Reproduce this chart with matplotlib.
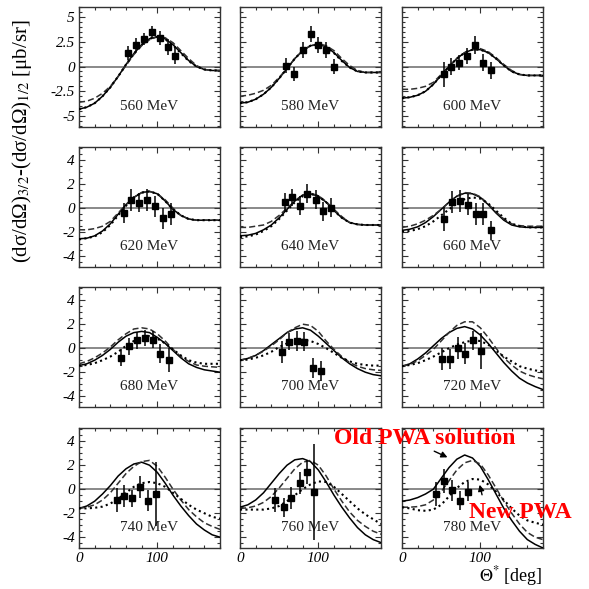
import matplotlib
matplotlib.use("Agg")
import matplotlib.pyplot as plt
from matplotlib.ticker import MultipleLocator, FuncFormatter

plt.rcParams['font.family'] = 'serif'
plt.rcParams['font.serif'] = ['Liberation Serif', 'DejaVu Serif']
plt.rcParams['mathtext.fontset'] = 'stix'
plt.rcParams['axes.unicode_minus'] = False

# ---------------- data ----------------
energies = ["560 MeV", "580 MeV", "600 MeV", "620 MeV", "640 MeV", "660 MeV",
            "680 MeV", "700 MeV", "720 MeV", "740 MeV", "760 MeV", "780 MeV"]

theta_grid = [0, 10, 20, 30, 40, 50, 60, 70, 80, 90, 100, 110, 120, 130, 140, 150, 160, 170, 180]

solid = [
    [-4.3,-4.1,-3.7,-3.0,-2.1,-1.0,0.2,1.3,2.2,2.8,3.0,2.8,2.2,1.4,0.6,0.0,-0.3,-0.4,-0.4],
    [-3.7,-3.6,-3.3,-2.8,-2.1,-1.2,-0.2,0.8,1.6,2.1,2.2,2.0,1.4,0.6,-0.1,-0.5,-0.6,-0.6,-0.6],
    [-3.2,-3.1,-2.9,-2.5,-1.8,-0.9,0.0,0.8,1.4,1.7,1.7,1.4,0.8,0.1,-0.5,-0.8,-0.9,-0.9,-0.9],
    [-2.55,-2.5,-2.3,-1.9,-1.3,-0.5,0.3,0.9,1.3,1.4,1.2,0.6,-0.1,-0.6,-0.9,-1.0,-1.0,-1.0,-1.0],
    [-2.3,-2.25,-2.1,-1.8,-1.4,-0.8,-0.1,0.6,1.1,1.2,1.0,0.5,-0.2,-0.8,-1.2,-1.35,-1.4,-1.4,-1.4],
    [-1.85,-1.75,-1.55,-1.2,-0.7,-0.1,0.5,1.0,1.25,1.2,0.9,0.3,-0.4,-1.0,-1.4,-1.55,-1.6,-1.6,-1.6],
    [-1.45,-1.3,-1.0,-0.6,-0.1,0.5,1.0,1.3,1.4,1.3,0.9,0.4,-0.2,-0.8,-1.3,-1.6,-1.8,-1.9,-2.0],
    [-1.0,-0.85,-0.6,-0.2,0.3,0.8,1.3,1.6,1.7,1.5,1.0,0.4,-0.2,-0.8,-1.3,-1.7,-2.0,-2.2,-2.3],
    [-1.5,-1.3,-0.9,-0.4,0.2,0.8,1.3,1.65,1.8,1.6,1.1,0.4,-0.4,-1.2,-1.9,-2.5,-2.9,-3.2,-3.45],
    [-1.6,-1.4,-1.0,-0.4,0.3,1.1,1.7,2.1,2.25,2.0,1.4,0.5,-0.5,-1.4,-2.2,-2.9,-3.4,-3.8,-4.0],
    [-1.5,-1.3,-0.9,-0.3,0.5,1.3,2.0,2.45,2.55,2.3,1.6,0.6,-0.5,-1.5,-2.4,-3.2,-3.8,-4.2,-4.45],
    [-1.0,-0.9,-0.7,-0.4,0.0,0.9,1.8,2.5,2.85,2.6,1.9,0.8,-0.4,-1.6,-2.6,-3.5,-4.2,-4.6,-4.9],
]

dashed = [
    [-3.6,-3.5,-3.2,-2.7,-2.0,-1.0,0.1,1.2,2.1,2.7,3.0,2.9,2.4,1.6,0.8,0.1,-0.3,-0.4,-0.4],
    [-3.0,-2.9,-2.7,-2.4,-1.9,-1.1,-0.2,0.8,1.6,2.1,2.3,2.1,1.6,0.8,0.1,-0.4,-0.6,-0.6,-0.6],
    [-2.3,-2.3,-2.2,-2.0,-1.6,-0.8,0.0,0.8,1.4,1.7,1.8,1.5,0.9,0.2,-0.4,-0.8,-0.9,-0.9,-0.9],
    [-1.8,-1.8,-1.7,-1.5,-1.1,-0.4,0.3,0.9,1.3,1.4,1.2,0.7,0.0,-0.6,-0.9,-1.0,-1.0,-1.0,-1.0],
    [-1.6,-1.6,-1.5,-1.4,-1.1,-0.6,0.0,0.6,1.1,1.25,1.05,0.55,-0.1,-0.7,-1.2,-1.35,-1.4,-1.4,-1.4],
    [-1.6,-1.5,-1.3,-1.0,-0.6,-0.1,0.5,1.0,1.3,1.25,0.95,0.35,-0.3,-0.9,-1.3,-1.45,-1.5,-1.5,-1.5],
    [-1.3,-1.1,-0.8,-0.4,0.1,0.7,1.2,1.6,1.7,1.6,1.2,0.6,-0.1,-0.7,-1.1,-1.4,-1.5,-1.55,-1.6],
    [-1.0,-0.85,-0.6,-0.25,0.2,0.7,1.3,1.7,2.0,1.9,1.4,0.6,-0.1,-0.7,-1.2,-1.5,-1.7,-1.8,-1.85],
    [-1.5,-1.35,-1.05,-0.6,-0.1,0.6,1.3,1.9,2.2,2.2,1.7,0.9,0.0,-0.8,-1.4,-1.9,-2.2,-2.4,-2.55],
    [-1.6,-1.5,-1.3,-0.9,-0.3,0.5,1.3,1.9,2.3,2.4,1.9,1.0,0.0,-0.9,-1.7,-2.3,-2.8,-3.1,-3.35],
    [-1.6,-1.55,-1.4,-1.1,-0.6,0.1,0.9,1.7,2.25,2.4,2.0,1.1,0.0,-1.0,-1.9,-2.6,-3.1,-3.5,-3.75],
    [-1.5,-1.5,-1.45,-1.3,-0.9,-0.2,0.7,1.6,2.2,2.4,2.1,1.2,0.1,-1.0,-2.0,-2.9,-3.6,-4.0,-4.2],
]

dotted = [
    [-4.3,-4.1,-3.7,-3.0,-2.1,-1.0,0.2,1.3,2.2,2.8,3.0,2.75,2.15,1.35,0.55,0.0,-0.3,-0.4,-0.4],
    [-3.7,-3.6,-3.3,-2.8,-2.1,-1.2,-0.2,0.8,1.6,2.1,2.2,1.95,1.35,0.55,-0.1,-0.5,-0.6,-0.6,-0.6],
    [-3.2,-3.1,-2.9,-2.5,-1.8,-0.9,0.0,0.8,1.4,1.7,1.7,1.4,0.8,0.1,-0.5,-0.8,-0.9,-0.9,-0.9],
    [-2.6,-2.5,-2.35,-2.0,-1.4,-0.6,0.2,0.9,1.3,1.4,1.2,0.6,-0.1,-0.6,-0.9,-1.0,-1.0,-1.0,-1.0],
    [-2.4,-2.35,-2.2,-1.9,-1.5,-0.9,-0.2,0.5,1.0,1.2,1.0,0.5,-0.2,-0.8,-1.2,-1.35,-1.4,-1.4,-1.4],
    [-1.95,-1.9,-1.75,-1.5,-1.1,-0.6,-0.1,0.4,0.75,0.9,0.8,0.4,-0.2,-0.8,-1.3,-1.5,-1.6,-1.6,-1.6],
    [-1.45,-1.4,-1.25,-1.0,-0.7,-0.3,0.2,0.6,0.9,1.0,0.8,0.4,-0.1,-0.6,-1.0,-1.2,-1.3,-1.3,-1.3],
    [-1.0,-0.95,-0.8,-0.6,-0.3,0.1,0.4,0.65,0.7,0.6,0.35,0.0,-0.4,-0.8,-1.1,-1.3,-1.4,-1.45,-1.45],
    [-1.5,-1.4,-1.25,-1.0,-0.7,-0.35,0.0,0.3,0.5,0.65,0.6,0.3,-0.2,-0.7,-1.1,-1.5,-1.7,-1.85,-1.95],
    [-1.6,-1.6,-1.55,-1.45,-1.2,-0.8,-0.3,0.2,0.5,0.6,0.5,0.2,-0.3,-0.8,-1.3,-1.7,-2.0,-2.3,-2.45],
    [-1.7,-1.7,-1.7,-1.7,-1.6,-1.4,-1.0,-0.5,0.0,0.4,0.65,0.6,0.2,-0.4,-1.0,-1.6,-2.1,-2.5,-2.9],
    [-1.5,-1.6,-1.75,-1.8,-1.7,-1.3,-0.6,0.1,0.6,0.85,0.8,0.4,-0.2,-0.9,-1.6,-2.2,-2.6,-2.8,-2.95],
]

data_theta = [
    [63, 73, 83, 93, 103, 113, 123],
    [59, 69, 80, 90, 100, 110, 120],
    [53, 63, 73, 83, 93, 103, 113],
    [57, 67, 77, 87, 97, 107, 118],
    [57, 67, 76, 86, 97, 106, 116],
    [54, 64, 74, 84, 94, 103, 114],
    [54, 64, 74, 84, 94, 104, 115],
    [53, 63, 73, 82, 93, 103],
    [51, 61, 71, 81, 91, 101],
    [48, 58, 68, 78, 88, 98],
    [45, 56, 65, 76, 86, 95],
    [43, 53, 64, 74, 84],
]
data_val = [
    [1.4, 2.2, 2.8, 3.5, 2.9, 1.95, 1.05],
    [0.1, -0.8, 1.7, 3.3, 2.2, 1.7, 0.0],
    [-0.8, 0.0, 0.4, 1.1, 2.2, 0.4, -0.4],
    [-0.4, 0.7, 0.45, 0.7, 0.15, -0.85, -0.5],
    [0.5, 0.9, 0.2, 1.2, 0.7, -0.25, 0.03],
    [-0.9, 0.5, 0.6, 0.3, -0.5, -0.5, -1.85],
    [-0.8, 0.15, 0.65, 0.85, 0.7, -0.45, -0.95],
    [-0.3, 0.55, 0.6, 0.55, -1.65, -1.9],
    [-0.9, -0.9, 0.0, -0.45, 0.65, -0.25],
    [-0.9, -0.55, -0.75, 0.2, -0.95, -0.4],
    [-0.9, -1.5, -0.75, 0.5, 1.45, -0.25],
    [-0.4, 0.7, -0.1, -0.95, -0.2],
]
data_err = [
    [0.7, 0.7, 0.6, 0.6, 0.7, 0.8, 0.8],
    [0.8, 0.7, 0.8, 0.8, 0.8, 0.8, 0.8],
    [1.3, 0.9, 0.8, 0.8, 0.9, 0.9, 0.9],
    [0.8, 0.9, 0.8, 0.9, 0.9, 0.9, 0.9],
    [0.8, 0.7, 0.8, 0.8, 0.8, 0.8, 0.8],
    [1.0, 0.9, 0.9, 0.9, 0.9, 0.9, 0.8],
    [0.7, 0.7, 0.7, 0.7, 0.7, 0.8, 1.0],
    [0.9, 0.7, 0.8, 0.8, 0.8, 0.8],
    [0.9, 0.8, 0.9, 0.9, 0.8, 1.5],
    [1.0, 0.9, 0.7, 0.9, 0.9, 2.7],
    [1.0, 0.8, 0.9, 0.9, 1.0, 4.0],
    [1.0, 1.0, 0.9, 0.8, 0.8],
]

# ---------------- figure ----------------
W = H = 589
fig = plt.figure(figsize=(W / 100, H / 100), dpi=100)
fig.patch.set_facecolor('white')

col_left = [79, 240, 402]
row_top = [7, 147, 287, 428]
aw, ah = 141, 120

fmt = FuncFormatter(lambda v, p: ('%g' % v))

for i in range(12):
    r, c = divmod(i, 3)
    ax = fig.add_axes([col_left[c] / W, 1 - (row_top[r] + ah) / H, aw / W, ah / H])
    ax.axhline(0, color='#808080', lw=1.3, zorder=1)
    ax.plot(theta_grid, solid[i], color='black', lw=1.1, zorder=3)
    ax.plot(theta_grid, dashed[i], color='#303030', lw=1.1, dashes=(4, 2), zorder=3)
    ax.plot(theta_grid, dotted[i], color='black', lw=1.5, dashes=(1, 1.6), zorder=3)
    ax.errorbar(data_theta[i], data_val[i], yerr=data_err[i], fmt='s', ms=5,
                color='black', ecolor='black', elinewidth=1.1, capsize=0, zorder=4)
    ax.set_xlim(0, 180)
    if r == 0:
        ax.set_ylim(-6.1, 6.0)
        ax.yaxis.set_major_locator(MultipleLocator(2.5))
        ax.yaxis.set_minor_locator(MultipleLocator(0.5))
    else:
        ax.set_ylim(-4.9, 5.1)
        ax.yaxis.set_major_locator(MultipleLocator(2))
        ax.yaxis.set_minor_locator(MultipleLocator(0.5))
    ax.xaxis.set_major_locator(MultipleLocator(100))
    ax.xaxis.set_minor_locator(MultipleLocator(20))
    ax.yaxis.set_major_formatter(fmt)
    ax.tick_params(which='both', direction='in', top=True, right=True,
                   labelsize=11, pad=3, width=0.8, color='#333333')
    ax.tick_params(which='major', length=4)
    ax.tick_params(which='minor', length=2.5)
    for s in ax.spines.values():
        s.set_linewidth(1.0)
        s.set_color('#333333')
    if c != 0:
        ax.tick_params(labelleft=False)
    if r != 3:
        ax.tick_params(labelbottom=False)
    for lbl in ax.get_xticklabels() + ax.get_yticklabels():
        lbl.set_fontstyle('italic')
    ax.text(0.5, 0.17, energies[i], transform=ax.transAxes, ha='center', va='center',
            fontsize=11, color='#222222')

fig.text(22 / W, 1 - 141 / H,
         '(dσ/dΩ)$_{3/2}$-(dσ/dΩ)$_{1/2}$ [μb/sr]',
         rotation=90, ha='center', va='center', fontsize=15)
fig.text(542 / W, 1 - 576 / H, r'$\Theta^{*}$ [deg]', ha='right', va='center', fontsize=13)

fig.text(425 / W, 1 - 439 / H, 'Old PWA solution', color='red', fontweight='bold',
         fontsize=17, ha='center', va='center')
fig.text(520 / W, 1 - 512 / H, 'New PWA', color='red', fontweight='bold',
         fontsize=17, ha='center', va='center')
fig.add_artist(matplotlib.patches.FancyArrowPatch(
    (431.7 / W, 1 - 450 / H), (450 / W, 1 - 458.5 / H), transform=fig.transFigure,
    arrowstyle='-|>', mutation_scale=9, color='black', lw=1.0))
fig.add_artist(matplotlib.patches.FancyArrowPatch(
    (482.7 / W, 1 - 497.5 / H), (479 / W, 1 - 482 / H), transform=fig.transFigure,
    arrowstyle='-|>', mutation_scale=9, color='black', lw=1.0))

fig.savefig('out.png', dpi=100, facecolor='white')
